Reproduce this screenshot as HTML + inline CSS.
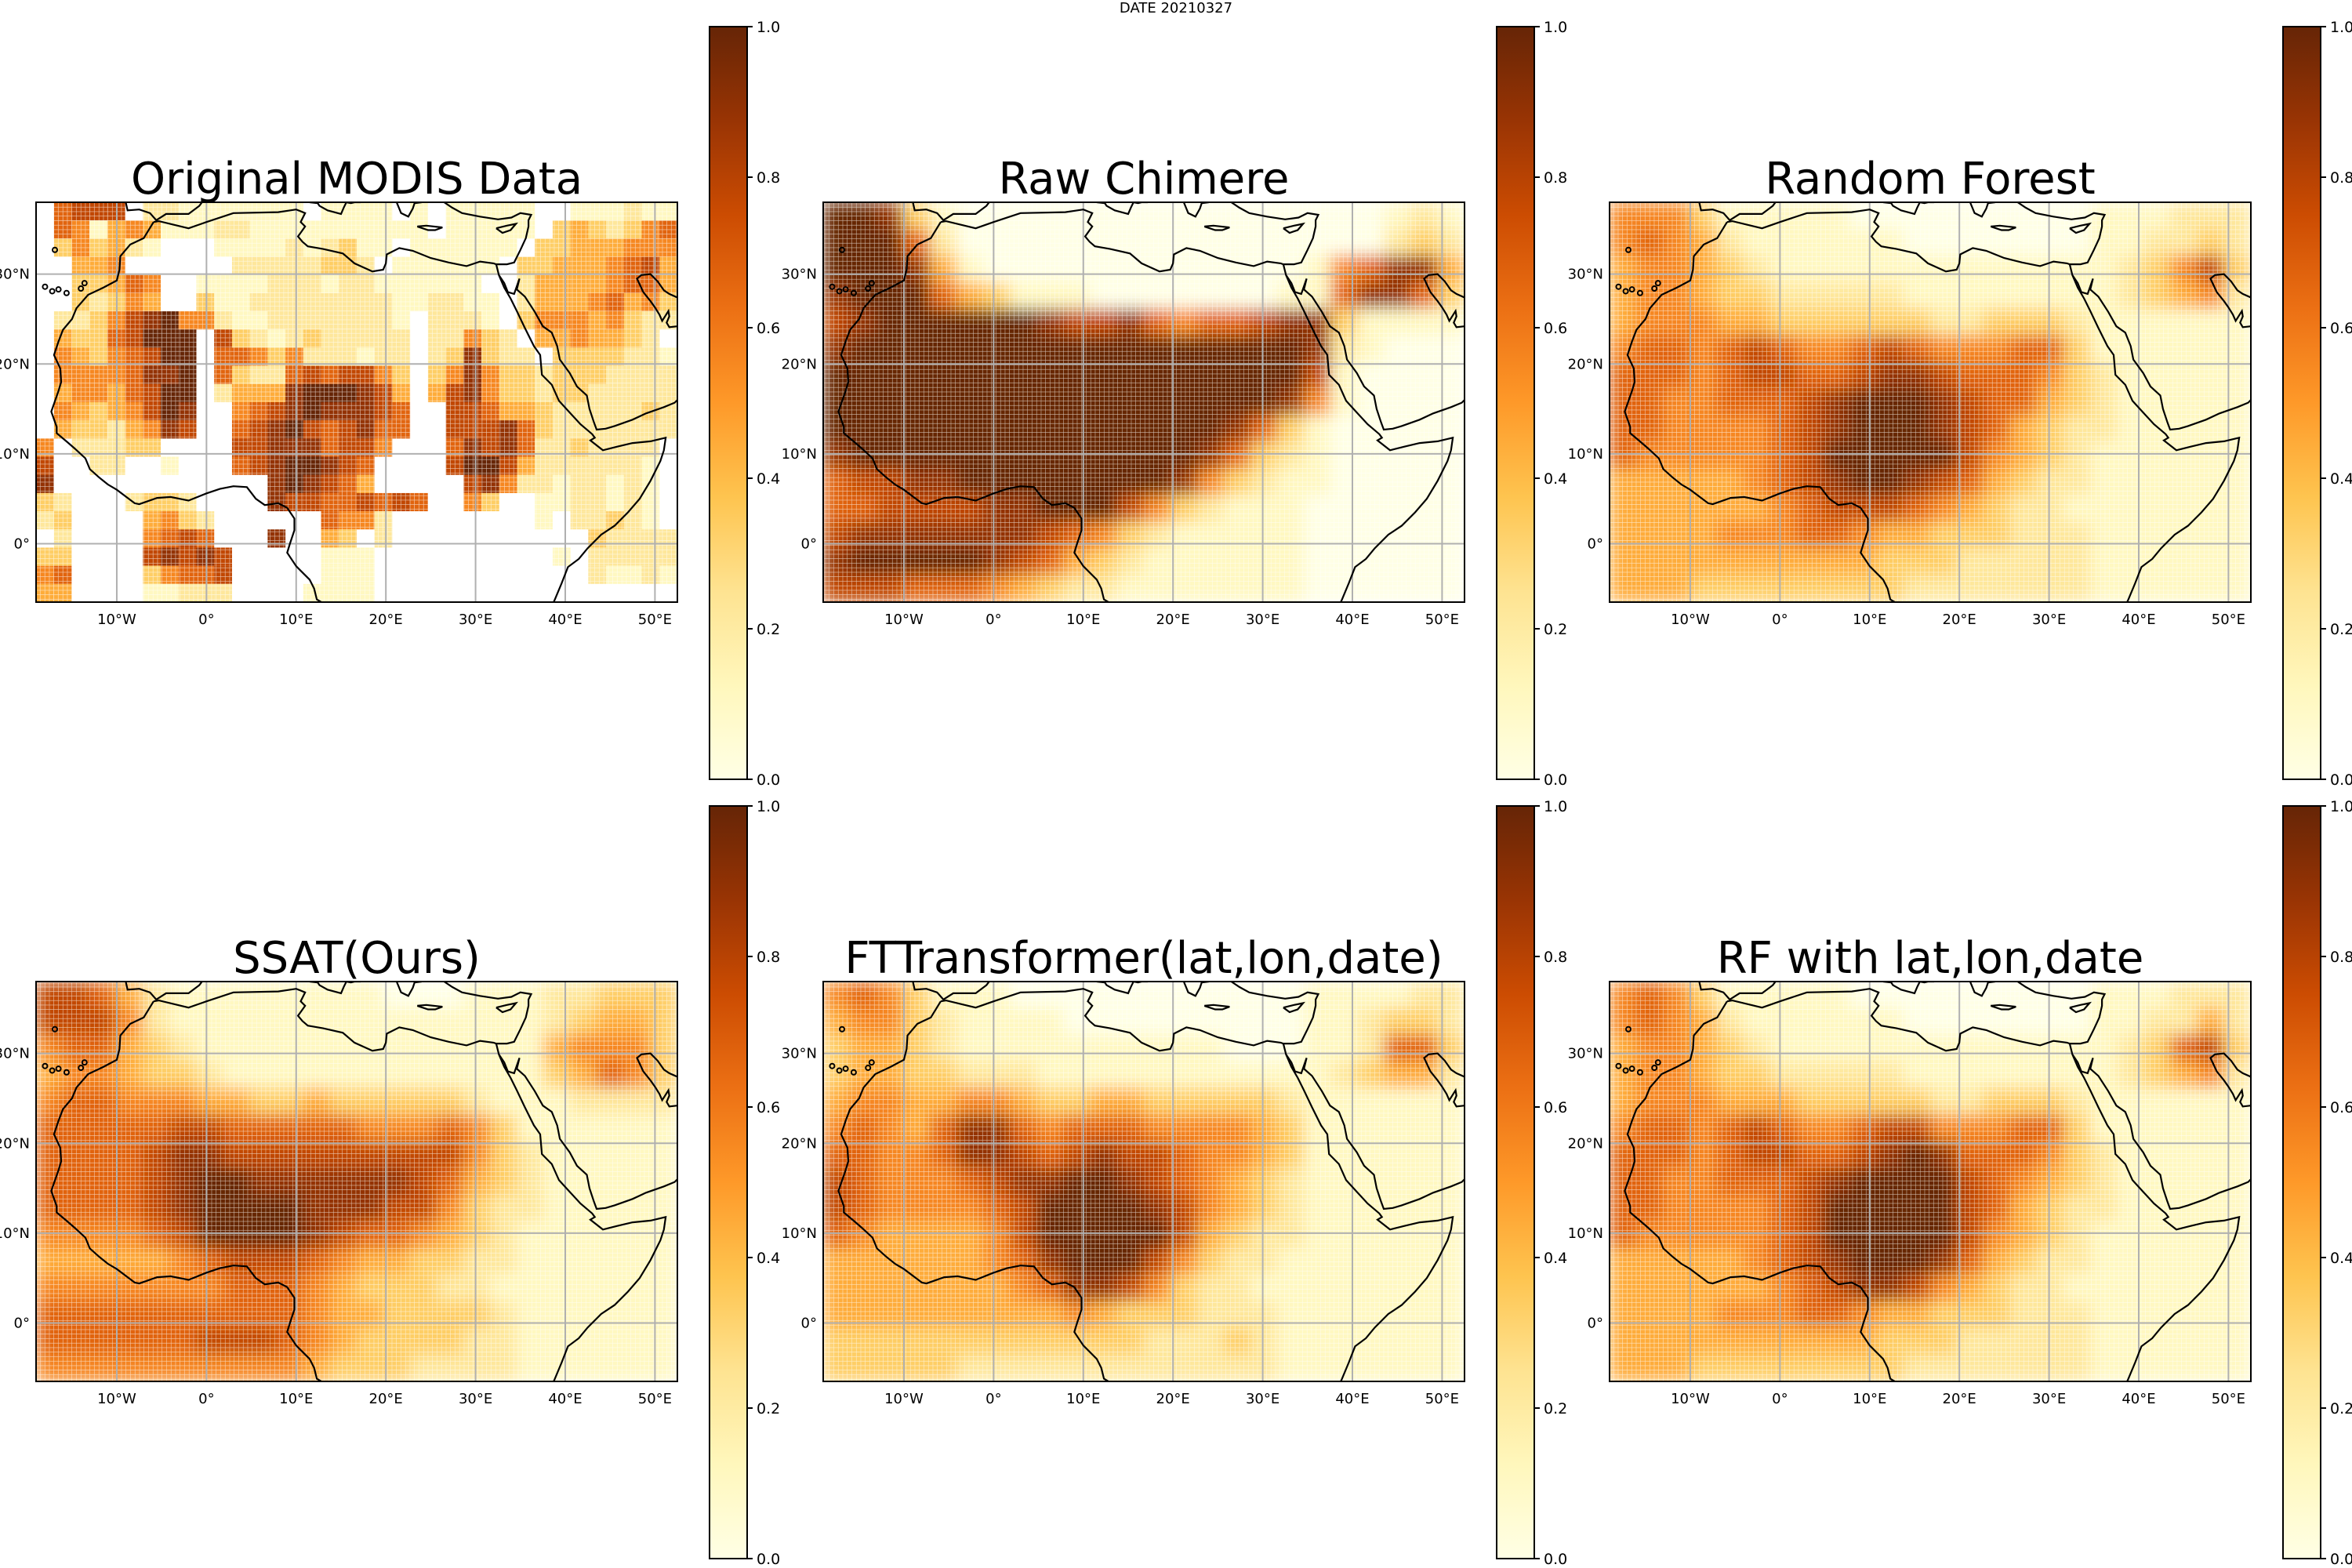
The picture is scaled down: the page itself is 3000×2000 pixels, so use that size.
<!DOCTYPE html>
<html><head><meta charset="utf-8">
<style>
html,body{margin:0;padding:0;background:#fff;}
svg{display:block;font-family:"DejaVu Sans","Liberation Sans",sans-serif;}
</style></head>
<body>
<svg id="fig" width="3000" height="2000" viewBox="0 0 3000 2000" xmlns="http://www.w3.org/2000/svg">
<defs>
<filter id="blur" x="-5%" y="-5%" width="110%" height="110%"><feGaussianBlur stdDeviation="10" edgeMode="duplicate"/></filter>
<linearGradient id="cmap" x1="0" y1="1" x2="0" y2="0">
<stop offset="0" stop-color="#ffffe5"/><stop offset="0.125" stop-color="#fff7bc"/><stop offset="0.25" stop-color="#fee391"/><stop offset="0.375" stop-color="#fec44f"/><stop offset="0.5" stop-color="#fe9929"/><stop offset="0.625" stop-color="#ec7014"/><stop offset="0.75" stop-color="#cc4c02"/><stop offset="0.875" stop-color="#993404"/><stop offset="1" stop-color="#662506"/>
</linearGradient>
<pattern id="fine" patternUnits="userSpaceOnUse" width="5.75" height="5.75"><path d="M5.75 0V5.75M0 5.75H5.75" stroke="#fff" stroke-width="1.1" fill="none"/></pattern>
<pattern id="fineM" patternUnits="userSpaceOnUse" width="5.75" height="5.75"><path d="M5.75 0V5.75M0 5.75H5.75" stroke="#fff" stroke-width="1.2" fill="none"/></pattern>
</defs>
<text x="1500" y="16" text-anchor="middle" font-size="18">DATE 20210327</text>
</svg>
<script>
// ---- data (digits 0-9 => value/9, '.' => no data); spaces are ignored ----
const panelTitles = ["Original MODIS Data","Raw Chimere","Random Forest","SSAT(Ours)","FTTransformer(lat,lon,date)","RF with lat,lon,date"];
const modisGrid = [
".6777.2211 11111.1111 .1.11111.. 111211",
".651454111 2211111111 11.11111.3 432356",
".353421... 1111212311 .111111.33 444555",
"..445..... .22222332. 111111.334 445674",
"..33465..1 1112221221 11111..244 445664",
"..32354..3 1122222222 112211.244 456453",
".223578955 2112222222 1.2221.355 545322",
".43367999. 7321232222 2.22532.44 54432.",
".54356799. 6653522212 2.238322.3 333221",
".55556889. 6322676775 3.35853323 332222",
".45546799. 2444899987 4.47853323 322222",
".54345798. .567898887 6..7764432 222232",
".43324587. .678976786 6..7778632 222222",
"5.22233... .778886775 ...6878622 32222.",
"7..22..1.. .67899876. ...7997422 22221.",
"8......... ...898764. ....785221 22121.",
"32...2332. ...8776676 76..53..11 22121.",
"23....4532 ......6552 ........1. 22321.",
".2....5676 ...8..43.2 .......... .32222",
"33....7878 7.....111. .........1 .22222",
"56....3566 7.....111. .......... .21121",
"44....1122 2....1111. .......... ......"];
const chimereGrid = [
"998310000000000000000121","999620000000000000000232","999841000000000000156884","899964311100000001168863","789999998778656678831111","899999999999999999821000","999999999999999999710000","999999999999999998510000","999999999999999863100000","899999999999998632100000","677889999999985321100000","667777889997532111000000","788888887653211111000000","899999876432111111000000","777666543221111111000000"];
const rfGrid = [
"555311111000000000111222","565421111110000000112232","455432111111111111123573","455433222221111111123452","455544333333223332111111","566567655676555663111111","666567766788766653211111","665566678999876643211111","665555678999876432211111","655555679999975432111111","444445678998764322111111","444444567776543221111111","444455566544333222111111","444444444433322222111111","444333333332222222111111"];
const ssatGrid = [
"776421111111100011122333","777521111111111111123443","566432111111111111145553","455433211111111111134653","566555443343333321112222","666667766666555653111111","666678877777777753211111","666678998888887643211111","666678999988877532211111","555567999987665432111111","444445677765443322111111","555555566654333221111111","666666666654433332111111","666666777654333322111111","555555555543332222111111"];
const fttGrid = [
"565311100000000000111122","455321111000000000112332","344321111111111000112663","344332221111111111123442","455445543344333332111111","565468865666555543111111","665568876787765543111111","765556788998765432111111","765555679999875432111111","654444579999974322111111","444444568999753221111111","444444456887532211111111","444444444543332221111111","333333333333222321111111","333332222222222221111111"];
const rfllGrid = [
"565311111000000000111222","565421111110000000112242","455432111111111111123673","455433222221111111123452","455544433333223332111111","566567655677555663111111","666567766789866653211111","665566678999976543211111","665555679999976432211111","655555679999975432111111","444445678999864322111111","444444567887543221111111","444455566544333222111111","444444444433322222111111","444333333332222222111111"];
const colorbarTicks = ["0.0","0.2","0.4","0.6","0.8","1.0"];
const lonTicks = [-10,0,10,20,30,40,50];
const latTicks = [0,10,20,30];
const lonMin=-19, lonMax=52.5, latMin=-6.5, latMax=38;

const NS="http://www.w3.org/2000/svg";
const svg=document.getElementById('fig');
function mk(tag,attrs,parent){const e=document.createElementNS(NS,tag);for(const k in attrs)e.setAttribute(k,attrs[k]);(parent||svg).appendChild(e);return e;}
const stops=["#ffffe5","#fff7bc","#fee391","#fec44f","#fe9929","#ec7014","#cc4c02","#993404","#662506"];
function hex(c){return [parseInt(c.slice(1,3),16),parseInt(c.slice(3,5),16),parseInt(c.slice(5,7),16)];}
function cmap(v){v=Math.max(0,Math.min(1,v));const t=v*8;const i=Math.min(7,Math.floor(t));const f=t-i;const a=hex(stops[i]),b=hex(stops[i+1]);return "rgb("+a.map((x,k)=>Math.round(x+(b[k]-x)*f)).join(",")+")";}

// coastlines (lon,lat)
const coasts=[
[[-5.9,35.8],[-7,34],[-8.5,33.3],[-9.6,32],[-9.7,30.5],[-10,29.3],[-11.5,28.5],[-13.2,27.7],[-14.5,26.2],[-15,25],[-16,23.8],[-16.5,22.5],[-17,21],[-16.3,19.5],[-16.2,18],[-16.5,17],[-17.3,14.7],[-16.7,13],[-16.7,12.3],[-15.5,11.3],[-14.7,10.6],[-13.5,9.5],[-13,8.3],[-12,7.4],[-11,6.6],[-10,6],[-8,4.5],[-7.5,4.4],[-5.5,5.1],[-4,5.2],[-2,4.8],[0,5.6],[1.5,6.1],[3,6.4],[4.5,6.3],[5.5,5],[6.5,4.3],[8,4.5],[9,4],[9.8,2.8],[9.8,1.5],[9.3,0],[9,-1],[10,-2.5],[11.5,-4],[12,-5],[12.3,-6.2],[12.8,-6.5]],
[[-5.9,35.8],[-5.3,35.9],[-2,35.1],[0,35.8],[3,36.8],[8,36.9],[10,37.2],[11,36.8],[10.5,35.8],[11,35.3],[10.2,34.2],[10.7,33.6],[11.3,33.1],[13,32.8],[15.2,32.3],[16.5,31.2],[18.5,30.3],[19.7,30.5],[20,31.2],[20.1,32.2],[21.5,32.9],[23,32.6],[25,31.8],[27,31.3],[29,30.9],[30.5,31.4],[32,31.2],[32.3,31.1],[33.5,31.1],[34.3,31.3],[35,32.7],[35.6,34],[35.9,35.3],[35.9,36],[36.2,36.6],[35,36.8],[34,36.3],[32.5,36.1],[30.5,36.4],[28.5,36.8],[27.4,37.4],[26.5,38]],
[[32.3,31.1],[32.6,29.9],[33.2,28.5],[33.9,27.3],[34.6,25.9],[35.5,24],[36.5,22],[37.2,21],[37.4,18.8],[38.5,17.7],[39.3,15.9],[40.5,14.6],[41.7,13.3],[43,12.2],[43.3,11.8],[42.8,11.5],[44.2,10.4],[45.8,10.8],[47.5,11.2],[49.5,11.4],[51.2,11.8],[51,10.4],[50.6,9.2],[49.5,7],[48.3,5],[47,3.5],[45.5,2],[44,1],[42.5,-0.5],[41.5,-1.7],[40.3,-2.6],[39.6,-4.4],[38.8,-6.3],[38.7,-6.5]],
[[32.6,29.9],[33.2,29],[33.6,28],[34.3,27.8],[34.9,29.5],[34.6,28.3],[35.5,27.5],[36.6,25.8],[37.5,24.2],[38.5,23.5],[39.1,22],[39.4,20.5],[40.5,19],[41.3,17.5],[42.4,16.5],[42.7,15],[43.2,13.5],[43.5,12.7],[44.5,12.8],[45.5,13.1],[47.5,13.8],[49,14.5],[51,15.2],[52.2,15.7],[52.5,16]],
[[52.5,24.2],[51.6,24.1],[51.3,24.6],[51.6,25.3],[51.5,25.9],[50.8,24.8],[50.5,25.5],[50,26.3],[49.5,27],[48.7,28],[48,29.5],[48.5,29.9],[49.5,30],[50.3,29.2],[51,28.2],[51.6,27.8],[52.5,27.4]],
[[-9,38],[-8.8,37.1],[-7.5,37.2],[-6.3,36.8],[-5.6,36],[-4.5,36.7],[-2,36.7],[-0.8,37.6],[-0.5,38]],
[[11.5,38],[12.4,37.9],[12.6,37.6],[13.5,37.1],[15,36.7],[15.3,37.4],[15.6,38]],
[[15.6,38],[16.1,37.9],[16.5,38],[17.2,38]],
[[23.5,35.3],[24.5,35.4],[26.3,35.2],[25.5,34.9],[24.7,34.9],[23.5,35.3]],
[[32.3,35.1],[33.5,35.4],[34.5,35.6],[33.9,34.9],[33,34.6],[32.3,35.1]],
[[21.2,38],[21.7,36.8],[22.5,36.4],[23,37.3],[23.2,37.9],[24,38]]];
const islands=[[-18,28.6],[-17.2,28.1],[-16.5,28.3],[-15.6,27.9],[-14,28.4],[-13.6,29],[-16.9,32.7]];

const rows=[258,1252];
const cols=[[46,864,905],[1050,1868,1909],[2053,2871,2912]];
const grids=[modisGrid,chimereGrid,rfGrid,ssatGrid,fttGrid,rfllGrid];

grids.forEach((gridRaw,p)=>{
  const grid=gridRaw.map(s=>s.replace(/ /g,''));
  const r=Math.floor(p/3), c=p%3;
  const X0=cols[c][0], X1=cols[c][1], Y0=rows[r], Y1=rows[r]+510, CB=cols[c][2];
  const sx=lon=>X0+(lon-lonMin)/(lonMax-lonMin)*(X1-X0);
  const sy=lat=>Y0+(latMax-lat)/(latMax-latMin)*(Y1-Y0);
  const g=mk('g',{});
  
  
  const cid='clip'+p;
  const cp=mk('clipPath',{id:cid},g); mk('rect',{x:X0,y:Y0,width:X1-X0,height:Y1-Y0},cp);
  const title=mk('text',{x:(X0+X1)/2,y:Y0-11,'text-anchor':'middle','font-size':56},g);
  title.textContent=panelTitles[p];
  
  
  const smooth=(p!==0);
  const clipG=mk('g',{'clip-path':'url(#'+cid+')'},g);
  const cells=mk('g',smooth?{filter:'url(#blur)'}:{},clipG);
  const nr=grid.length, nc=grid[0].length;
  const dlon=(lonMax-lonMin)/nc, dlat=(latMax-latMin)/nr;
  grid.forEach((row,j)=>{
    for(let i=0;i<nc;i++){
      const ch=row[i]; if(ch===undefined||ch==='.') continue;
      const v=+ch/9;
      const x=sx(lonMin+i*dlon), y=sy(latMax-j*dlat);
      const pad=smooth?0.5:0;
      const cell=mk('rect',{x:x-pad,y:y-pad,width:sx(lonMin+(i+1)*dlon)-x+2*pad,height:sy(latMax-(j+1)*dlat)-y+2*pad,fill:cmap(v)},cells);
      
      
    }
  });
  mk('rect',{x:X0,y:Y0,width:X1-X0,height:Y1-Y0,fill:smooth?'url(#fine)':'url(#fineM)',opacity:0.7},clipG);
  lonTicks.forEach(l=>{const gl=mk('line',{x1:sx(l),x2:sx(l),y1:Y0,y2:Y1,stroke:'#b0b0b0','stroke-width':2},clipG);});
  latTicks.forEach(l=>{const gl=mk('line',{y1:sy(l),y2:sy(l),x1:X0,x2:X1,stroke:'#b0b0b0','stroke-width':2},clipG);});
  coasts.forEach(cl=>{const pl=mk('polyline',{points:cl.map(q=>sx(q[0]).toFixed(1)+','+sy(q[1]).toFixed(1)).join(' '),fill:'none',stroke:'#000','stroke-width':2.2},clipG);});
  islands.forEach(q=>{const ci=mk('circle',{cx:sx(q[0]),cy:sy(q[1]),r:3,fill:'none',stroke:'#000','stroke-width':2},clipG);});
  mk('rect',{x:X0,y:Y0,width:X1-X0,height:Y1-Y0,fill:'none',stroke:'#000','stroke-width':2},g);
  lonTicks.forEach(l=>{const t=mk('text',{x:sx(l),y:Y1+28,'text-anchor':'middle','font-size':18},g);t.textContent=(l<0?(-l)+'°W':l===0?'0°':l+'°E');});
  latTicks.forEach(l=>{const t=mk('text',{x:X0-8,y:sy(l)+6,'text-anchor':'end','font-size':18},g);t.textContent=(l===0?'0°':l+'°N');});
  const cbTop=r===0?34:1028, cbBot=cbTop+960;
  const cb=mk('rect',{x:CB,y:cbTop,width:48,height:960,fill:'url(#cmap)',stroke:'#000','stroke-width':2},g);
  
  
  colorbarTicks.forEach(tk=>{const y=cbBot-(+tk)*960;mk('line',{x1:CB+48,x2:CB+55,y1:y,y2:y,stroke:'#000','stroke-width':2},g);const t=mk('text',{x:CB+60,y:y+7,'font-size':19},g);t.textContent=tk;});
});
</script>
</body></html>
